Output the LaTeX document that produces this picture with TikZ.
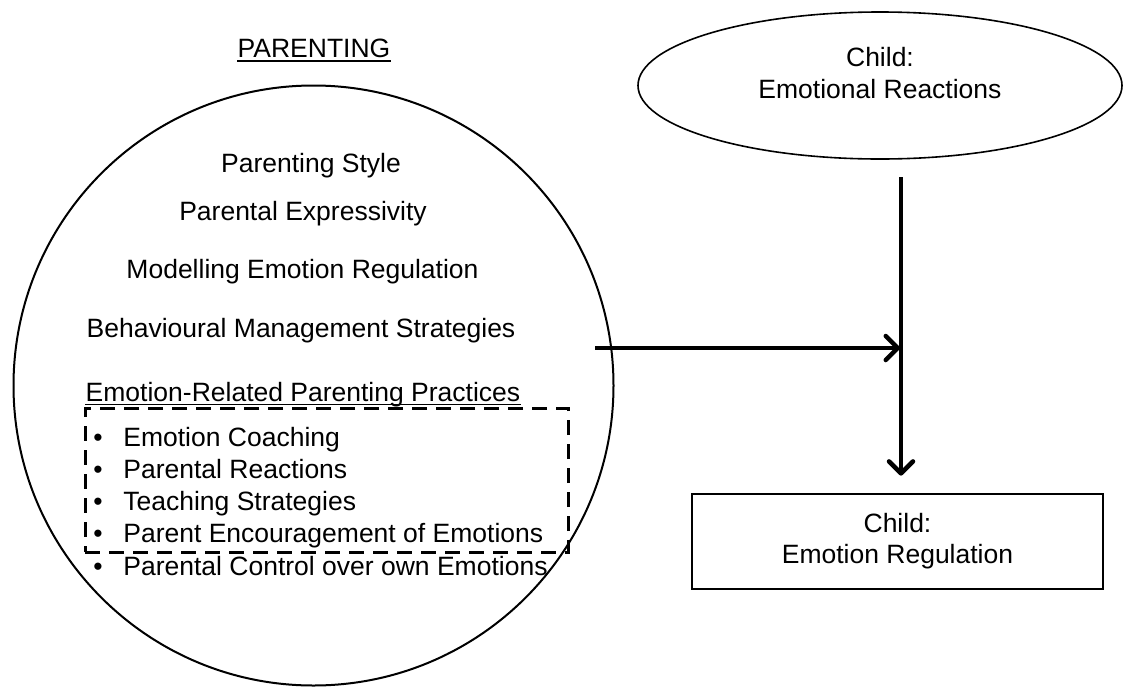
\documentclass[tikz,border=0pt]{standalone}
\usepackage{fontspec}
\setmainfont{Liberation Sans}
\usetikzlibrary{shapes.geometric,arrows.meta,calc}
\tikzset{every picture/.style={line width=0.75pt}}
\begin{document}
\begin{tikzpicture}[x=1pt,y=1pt,yscale=-1,xscale=1,
	txt/.style={inner sep=0pt,anchor=base,font=\fontsize{26.5}{32}\selectfont},
	flow/.style={line width=4.5pt,-{Straight Barb[length=12pt,width=24pt,round]}}]
	\useasboundingbox (0,0) rectangle (1125,686);

	%Shape: Circle
	\node [draw,circle,line width=2pt,minimum size=600pt,inner sep=0pt] (parc) at (313.5,385.5) {};
	%Shape: Ellipse
	\node [draw,ellipse,line width=1.6pt,minimum width=484pt,minimum height=147pt,inner sep=0pt] (reac) at (880,85.5) {};
	%Shape: Rectangle
	\node [draw,line width=2.7pt,minimum width=411pt,minimum height=95pt,inner sep=0pt,align=center,font=\fontsize{26.5}{31}\selectfont] (reg) at (897.5,541.5) {Child:\\Emotion Regulation};
	%Shape: Dashed Rectangle
	\node [draw,line width=3pt,dash pattern={on 15pt off 9pt},minimum width=483pt,minimum height=144pt,inner sep=0pt] (pracbox) at (326.5,480) {};

	%Straight Lines
	\coordinate (vtop) at (901,177);
	\coordinate (hstart) at (595,348);
	\draw [flow,shorten >=17pt] (vtop) -- (vtop |- reg.north);
	\draw [flow] (hstart) -- ([xshift=-1pt]hstart -| vtop);

	% Text Node
	\node [txt,anchor=center,align=center,font=\fontsize{26.5}{32}\selectfont] (reactxt) at (880,73) {Child:\\Emotional Reactions};
	% Text Node
	\node [txt] (partitle) at (314,57.5) {PARENTING};
	\draw [line width=1.6pt] ($(partitle.base west)+(0,3.5)$) -- ($(partitle.base east)+(0,3.5)$);
	% Text Node
	\node [txt] (pstyle) at (311,172) {Parenting Style};
	% Text Node
	\node [txt] (pexpr) at (303,220.5) {Parental Expressivity};
	% Text Node
	\node [txt] (model) at (302.5,278.5) {Modelling Emotion Regulation};
	% Text Node
	\node [txt] (behav) at (301,337.5) {Behavioural Management Strategies};
	% Text Node
	\node [txt] (erpp) at (303,401.5) {Emotion-Related Parenting Practices};
	\draw [line width=1.6pt] ($(erpp.base west)+(0,3)$) -- ($(erpp.base east)+(0,3)$);

	% Text Node
	\node [txt] (bul1) at (98,446) {\textbullet};
	\node [txt,anchor=base west] (coach) at (123,446) {Emotion Coaching};
	% Text Node
	\node [txt] (bul2) at (98,478) {\textbullet};
	\node [txt,anchor=base west] (preac) at (123,478) {Parental Reactions};
	% Text Node
	\node [txt] (bul3) at (98,510) {\textbullet};
	\node [txt,anchor=base west] (teach) at (123,510) {Teaching Strategies};
	% Text Node
	\node [txt] (bul4) at (98,542) {\textbullet};
	\node [txt,anchor=base west] (encour) at (123,542) {Parent Encouragement of Emotions};
	% Text Node
	\node [txt] (bul5) at (98,575) {\textbullet};
	\node [txt,anchor=base west] (pctrl) at (123,575) {Parental Control over own Emotions};

\end{tikzpicture}
\end{document}
